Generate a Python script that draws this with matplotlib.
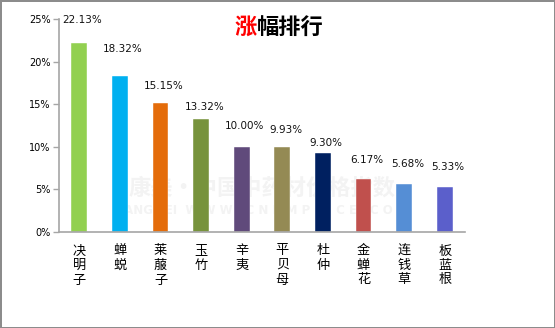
import matplotlib.pyplot as plt
from matplotlib.ticker import FuncFormatter

plt.rcParams['font.family'] = ['Noto Sans CJK SC', 'DejaVu Sans']

# data
herbs = ['决明子', '蝉蜕', '莱菔子', '玉竹', '辛夷', '平贝母', '杜仲', '金蝉花', '连钱草', '板蓝根']
rise = [22.13, 18.32, 15.15, 13.32, 10.00, 9.93, 9.30, 6.17, 5.68, 5.33]
bar_colors = ['#92D050', '#00B0F0', '#E46C0A', '#77933C', '#604A7B',
              '#948A54', '#002060', '#C0504D', '#558ED5', '#5B5FCB']
# how far each value label sits above its bar (in %)
label_lift = [2.7, 3.2, 1.95, 1.4, 2.4, 2.1, 1.2, 2.3, 2.3, 2.3]

fig = plt.figure(figsize=(5.55, 3.28), dpi=100)
fig.patch.set_facecolor('white')
fig.patch.set_edgecolor('#8C8C8C')
fig.patch.set_linewidth(2)

ax = fig.add_axes([0.1063, 0.2927, 0.7317, 0.6493])

# faint watermark behind the bars
ax.text(0.5, 0.205, '康美·中国中药材价格指数', transform=ax.transAxes, ha='center', va='center',
        fontsize=16, fontweight='bold', color='#F3F3F3', zorder=0)
ax.text(0.5, 0.1, 'KANGMEI  W W W . C N K M P R I C E . C O M', transform=ax.transAxes,
        ha='center', va='center', fontsize=8.5, fontweight='bold', color='#F3F3F3',
        family='DejaVu Sans', zorder=0)

x = range(len(herbs))
ax.bar(x, rise, width=0.39, color=bar_colors, edgecolor='#FFFFFF', linewidth=0.3, zorder=2)

for i, (v, lift) in enumerate(zip(rise, label_lift)):
    ax.text(i + 0.08, v + lift, '%.2f%%' % v, ha='center', va='center',
            fontsize=7.5, family='DejaVu Sans', color='#111111', zorder=3)

ax.set_xlim(-0.5, len(herbs) - 0.5)
ax.set_ylim(0, 25)
ax.set_yticks([0, 5, 10, 15, 20, 25])
ax.yaxis.set_major_formatter(FuncFormatter(lambda v, p: '%d%%' % v))
ax.tick_params(axis='y', labelsize=7, length=4, width=1, color='#A6A6A6', pad=2)
for t in ax.get_yticklabels():
    t.set_family('DejaVu Sans')

ax.set_xticks(list(x))
ax.set_xticklabels(['\n'.join(h) for h in herbs], fontsize=9.5, linespacing=1.15, va='top')
ax.tick_params(axis='x', length=0, pad=9)

for side in ['top', 'right']:
    ax.spines[side].set_visible(False)
ax.spines['left'].set_color('#A6A6A6')
ax.spines['bottom'].set_color('#A6A6A6')
ax.spines['left'].set_linewidth(1.2)
ax.spines['bottom'].set_linewidth(1.2)

# two-colour title
fig.text(0.463, 0.917, '涨', ha='right', va='center', fontsize=16, fontweight='bold', color='#FF0000')
fig.text(0.463, 0.917, '幅排行', ha='left', va='center', fontsize=16, fontweight='bold', color='#000000')

fig.savefig('out.png', dpi=100, facecolor=fig.get_facecolor(), edgecolor=fig.get_edgecolor())
